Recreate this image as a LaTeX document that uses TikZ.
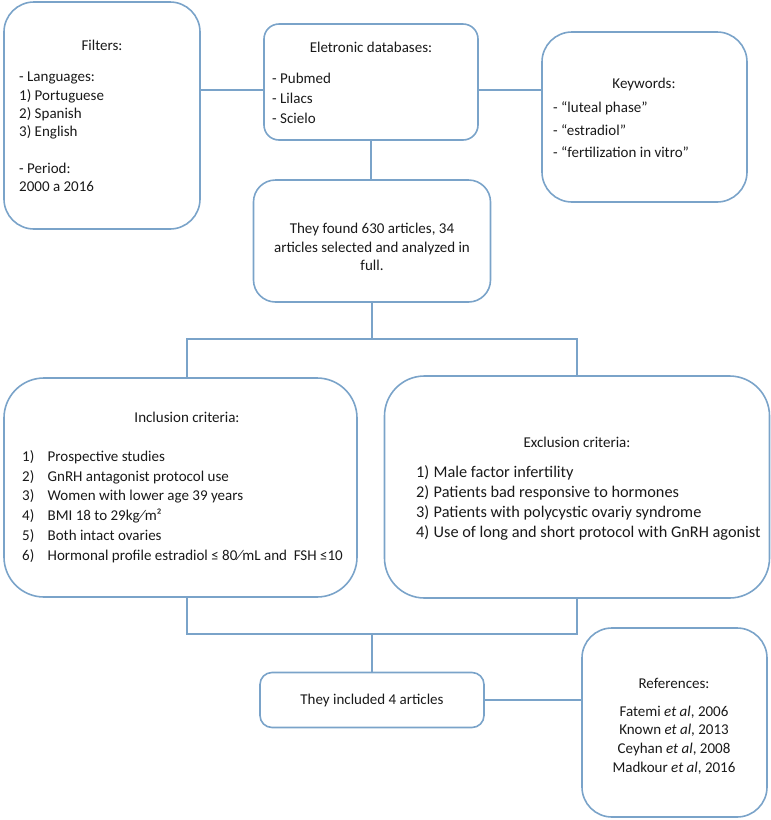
\documentclass[tikz,border=0pt]{standalone}
\usepackage{fontspec}
\setmainfont{Carlito}
\definecolor{bordc}{RGB}{122,163,201}
\definecolor{txtc}{RGB}{25,25,25}
\begin{document}
\begin{tikzpicture}[x=1pt,y=-1pt,
  box/.style={draw=bordc,line width=1.6pt,rounded corners=#1,inner sep=0pt},
  box/.default=20pt,
  conn/.style={draw=bordc,line width=1.6pt},
  txt/.style={inner sep=0pt,text=txtc,font=\fontsize{15}{18}\selectfont},
  lst/.style={txt,align=left,anchor=west,font={\fontsize{15}{#1}\selectfont}},
  lst/.default=20pt]
\useasboundingbox (0,0) rectangle (771,820);
% boxes
\node[box=30pt,minimum width=196pt,minimum height=227pt] (filt) at (102,115.5) {};
\node[box=15pt,minimum width=214pt,minimum height=116pt] (db) at (371,82) {};
\node[box=30pt,minimum width=205pt,minimum height=170pt] (kw) at (644.5,117) {};
\node[box=22pt,minimum width=237pt,minimum height=122pt] (found) at (372,241) {};
\node[box=40pt,minimum width=353pt,minimum height=219pt] (incl) at (180.5,487.5) {};
\node[box=40pt,minimum width=385pt,minimum height=222pt] (excl) at (577,487) {};
\node[box=12pt,minimum width=224pt,minimum height=55pt] (inc4) at (372,700) {};
\node[box=30pt,minimum width=185pt,minimum height=189pt] (refs) at (674.5,722.5) {};
% texts
\node[txt] (filtT) at (102,45) {Filters:};
\node[lst=18.3pt] (filtL) at (19,132) {- Languages:\\1) Portuguese\\2) Spanish\\3) English\\[18.3pt]- Period:\\2000 a 2016};
\node[txt] (dbT) at (371,47) {Eletronic databases:};
\node[lst=20pt] (dbL) at (272,98) {- Pubmed\\- Lilacs\\- Scielo};
\node[txt] (kwT) at (644,84) {Keywords:};
\node[lst=22.5pt] (kwL) at (553,130) {- “luteal phase”\\- “estradiol”\\- “fertilization in vitro”};
\node[txt,align=center,font={\fontsize{15}{18.5}\selectfont}] (foundT) at (372,247) {They found 630 articles, 34\\articles selected and analyzed in\\full.};
\node[txt] (inclT) at (187,417) {Inclusion criteria:};
\node[lst=19.8pt] (inclL) at (22,506.5) {\makebox[25.5pt][l]{1)}Prospective studies\\
\makebox[25.5pt][l]{2)}GnRH antagonist protocol use\\
\makebox[25.5pt][l]{3)}Women with lower age 39 years\\
\makebox[25.5pt][l]{4)}BMI 18 to 29kg⁄m²\\
\makebox[25.5pt][l]{5)}Both intact ovaries\\
\makebox[25.5pt][l]{6)}Hormonal profile estradiol ≤ 80⁄mL and~ FSH ≤10};
\node[txt] (exclT) at (577,442) {Exclusion criteria:};
\node[txt,align=left,anchor=west,font={\fontsize{16.3}{20}\selectfont}] (exclL) at (416,503) {\makebox[17.5pt][l]{1)}Male factor infertility\\
\makebox[17.5pt][l]{2)}Patients bad responsive to hormones\\
\makebox[17.5pt][l]{3)}Patients with polycystic ovariy syndrome\\
\makebox[17.5pt][l]{4)}Use of long and short protocol with GnRH agonist};
\node[txt] (inc4T) at (372,700) {They included 4 articles};
\node[txt] (refsT) at (674,683) {References:};
\node[txt,align=center,font={\fontsize{15}{18.8}\selectfont}] (refsL) at (674,740) {Fatemi \textit{et al}, 2006\\Known \textit{et al}, 2013\\Ceyhan \textit{et al}, 2008\\Madkour \textit{et al}, 2016};
% connectors
\draw[conn] ([yshift=-8pt]db.west) -- ([yshift=-8pt]db.west -| filt.east);
\draw[conn] ([yshift=-8pt]db.east) -- ([yshift=-8pt]db.east -| kw.west);
\draw[conn] (db.south) -- (db.south |- found.north);
\coordinate (j1) at (372,339);
\draw[conn] (found.south) -- (found.south |- j1);
\draw[conn] ([xshift=6.5pt]incl.north) |- (j1 -| excl.north) -- (excl.north);
\coordinate (j2) at (372,634);
\draw[conn] ([xshift=6.5pt]incl.south) |- (j2 -| excl.south) -- (excl.south);
\draw[conn] (j2) -- (j2 |- inc4.north);
\draw[conn] (inc4.east) -- (inc4.east -| refs.west);
\end{tikzpicture}
\end{document}
